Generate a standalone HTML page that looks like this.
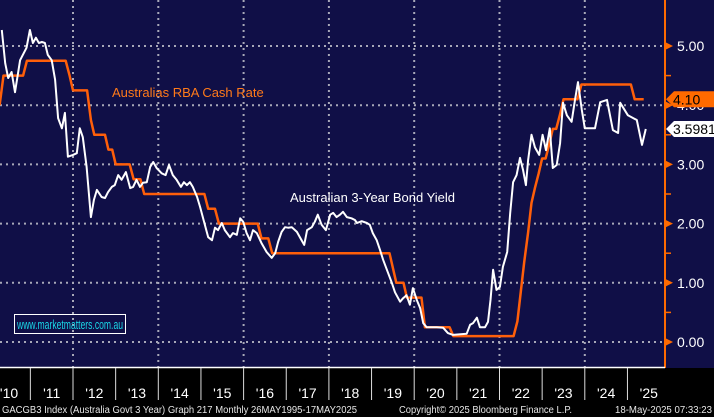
<!DOCTYPE html>
<html><head><meta charset="utf-8"><style>
html,body{margin:0;padding:0;background:#000;}
svg{display:block;font-family:"Liberation Sans",sans-serif;}
</style></head><body>
<svg id="chart" width="714" height="417" viewBox="0 0 714 417" xmlns="http://www.w3.org/2000/svg">
<rect x="0" y="0" width="714" height="368" fill="#100f47"/>
<rect x="0" y="368" width="714" height="49" fill="#000"/>
<g id="grid"></g>
<g id="series"></g>
<text x="112" y="97" fill="#ff7a1a" font-size="13">Australias RBA Cash Rate</text>
<text x="290" y="202" fill="#ffffff" font-size="13">Australian 3-Year Bond Yield</text>
<rect x="14.5" y="314.5" width="111" height="19" fill="none" stroke="#fff" stroke-width="1"/>
<text x="17" y="329" fill="#1ad6e6" font-size="13" textLength="106" lengthAdjust="spacingAndGlyphs">www.marketmatters.com.au</text>
<line x1="665" y1="0" x2="665" y2="368" stroke="#ff6a00" stroke-width="2"/>
<g id="yaxis"></g>
<line x1="0" y1="367.5" x2="665" y2="367.5" stroke="#fff" stroke-width="1.5"/>
<g id="xaxis"></g>
<g id="tags"></g>
<text x="2" y="413" fill="#e6e6e6" font-size="10" textLength="355" lengthAdjust="spacingAndGlyphs">GACGB3 Index (Australia Govt 3 Year) Graph 217  Monthly 26MAY1995-17MAY2025</text>
<text x="399" y="413" fill="#e6e6e6" font-size="10" textLength="173" lengthAdjust="spacingAndGlyphs">Copyright© 2025 Bloomberg Finance L.P.</text>
<text x="615" y="413" fill="#e6e6e6" font-size="10" textLength="97" lengthAdjust="spacingAndGlyphs">18-May-2025 07:33:23</text>
</svg>
<script>
const yTicks=[0,1,2,3,4,5];
const yTickLabels=["0.00","1.00","2.00","3.00","4.00","5.00"];
const yearLabels=["'10","'11","'12","'13","'14","'15","'16","'17","'18","'19","'20","'21","'22","'23","'24","'25"];
const yearStarts=[2010,2011,2012,2013,2014,2015,2016,2017,2018,2019,2020,2021,2022,2023,2024,2025];
const gridYears=[2012,2014,2016,2018,2020,2022,2024];
const cashDates=[2010.28,2010.37,2010.83,2010.92,2011.83,2011.92,2012.0,2012.33,2012.42,2012.5,2012.75,2012.83,2012.92,2013.0,2013.33,2013.42,2013.58,2013.67,2015.08,2015.17,2015.33,2015.42,2016.33,2016.42,2016.58,2016.67,2019.42,2019.5,2019.58,2019.75,2019.83,2020.17,2020.25,2020.83,2020.92,2022.33,2022.42,2022.5,2022.58,2022.67,2022.75,2022.83,2022.92,2023.0,2023.08,2023.17,2023.25,2023.33,2023.42,2023.5,2023.83,2023.92,2025.08,2025.17,2025.38];
const cashValues=[4.0,4.5,4.5,4.75,4.75,4.5,4.25,4.25,3.75,3.5,3.5,3.25,3.25,3.0,3.0,2.75,2.75,2.5,2.5,2.25,2.25,2.0,2.0,1.75,1.75,1.5,1.5,1.25,1.0,1.0,0.75,0.75,0.25,0.25,0.1,0.1,0.35,0.85,1.35,1.85,2.35,2.6,2.85,3.1,3.1,3.35,3.6,3.6,3.85,4.1,4.1,4.35,4.35,4.1,4.1];
const bondDates=[2010.33,2010.41,2010.48,2010.56,2010.64,2010.76,2010.91,2010.99,2011.06,2011.13,2011.20,2011.27,2011.34,2011.41,2011.50,2011.58,2011.65,2011.74,2011.81,2011.88,2012.00,2012.09,2012.16,2012.23,2012.32,2012.42,2012.49,2012.56,2012.67,2012.75,2012.82,2012.91,2012.98,2013.06,2013.14,2013.24,2013.34,2013.41,2013.49,2013.57,2013.64,2013.73,2013.81,2013.88,2013.96,2014.08,2014.17,2014.25,2014.34,2014.43,2014.53,2014.60,2014.67,2014.74,2014.81,2014.91,2014.98,2015.05,2015.17,2015.26,2015.33,2015.40,2015.49,2015.56,2015.68,2015.75,2015.84,2015.92,2015.99,2016.07,2016.15,2016.22,2016.31,2016.42,2016.54,2016.66,2016.74,2016.81,2016.89,2016.97,2017.04,2017.13,2017.25,2017.32,2017.42,2017.49,2017.60,2017.67,2017.74,2017.83,2017.93,2018.03,2018.10,2018.18,2018.26,2018.33,2018.42,2018.53,2018.61,2018.66,2018.77,2018.89,2018.96,2019.03,2019.12,2019.20,2019.27,2019.36,2019.47,2019.55,2019.67,2019.74,2019.82,2019.90,2019.97,2020.06,2020.14,2020.21,2020.29,2020.53,2020.68,2020.79,2020.91,2021.23,2021.31,2021.38,2021.47,2021.54,2021.66,2021.73,2021.79,2021.85,2021.93,2022.01,2022.08,2022.18,2022.25,2022.32,2022.40,2022.48,2022.55,2022.62,2022.67,2022.75,2022.83,2022.93,2023.01,2023.09,2023.18,2023.25,2023.34,2023.42,2023.49,2023.58,2023.69,2023.77,2023.84,2023.93,2024.00,2024.24,2024.36,2024.52,2024.66,2024.78,2024.83,2025.01,2025.22,2025.34,2025.43];
const bondValues=[5.27,4.71,4.46,4.56,4.22,4.76,4.97,5.27,5.05,5.14,5.05,5.07,5.05,4.85,4.76,4.43,3.78,3.61,3.87,3.13,3.16,3.19,3.61,3.46,2.96,2.11,2.40,2.57,2.45,2.43,2.53,2.62,2.65,2.82,2.74,2.87,2.60,2.62,2.74,2.62,2.69,2.70,2.96,3.04,2.94,2.85,2.82,2.99,2.82,2.74,2.62,2.70,2.65,2.70,2.62,2.45,2.28,2.09,1.77,1.72,1.93,1.89,2.01,1.89,1.77,1.84,1.81,2.09,2.03,1.84,1.72,1.89,1.84,1.67,1.52,1.42,1.50,1.69,1.86,1.94,1.93,1.94,1.86,1.77,1.64,1.89,1.94,2.03,2.15,1.98,1.89,2.15,2.18,2.11,2.15,2.20,2.11,2.09,2.06,2.01,2.04,2.01,1.98,1.84,1.72,1.55,1.39,1.22,1.01,0.84,0.68,0.74,0.79,0.63,0.91,0.71,0.57,0.32,0.25,0.25,0.24,0.15,0.12,0.14,0.29,0.32,0.41,0.25,0.25,0.34,0.71,1.22,0.88,0.93,1.27,1.52,2.18,2.70,2.82,3.11,2.91,2.65,3.07,3.50,3.29,3.16,3.50,3.24,3.61,2.94,2.99,3.36,4.04,3.83,3.72,4.09,4.39,3.92,3.61,3.61,4.05,4.09,3.58,3.53,4.04,3.83,3.75,3.33,3.5981];
const lastCash=4.10, lastBond=3.5981;

const NS="http://www.w3.org/2000/svg";
function xs(t){return 73+(t-2012)*42.65;}
function ys(v){return 342-v*59.2;}
function mk(tag,attrs,parent){const e=document.createElementNS(NS,tag);for(const k in attrs)e.setAttribute(k,attrs[k]);parent.appendChild(e);return e;}
const grid=document.getElementById('grid'),series=document.getElementById('series'),yaxis=document.getElementById('yaxis'),xaxis=document.getElementById('xaxis'),tags=document.getElementById('tags');
yTicks.forEach((v,i)=>{
  const g=mk('line',{x1:0,x2:665,y1:ys(v),y2:ys(v),stroke:'#a8a8b8','stroke-width':2,'stroke-dasharray':'2 4'},grid);
  
  
  const tk=mk('path',{d:`M665 ${ys(v)-4} L673 ${ys(v)} L665 ${ys(v)+4} Z`,fill:'#ff6a00'},yaxis);
  
  
  const lb=mk('text',{x:677,y:ys(v)+5,fill:'#fff','font-size':14},yaxis);
  lb.textContent=yTickLabels[i];
  
  
  if(v<5){const m=mk('line',{x1:665,x2:671,y1:ys(v+0.5),y2:ys(v+0.5),stroke:'#ff6a00','stroke-width':1.5},yaxis);
  
  }
});
gridYears.forEach(t=>{
  const g=mk('line',{x1:xs(t),x2:xs(t),y1:0,y2:367,stroke:'#a8a8b8','stroke-width':2,'stroke-dasharray':'2 4'},grid);
  
  
});
yearStarts.forEach((t,i)=>{
  if(i>0){const s=mk('line',{x1:xs(t),x2:xs(t),y1:368,y2:400,stroke:'#ddd','stroke-width':1},xaxis);
  
  }
  const lb=mk('text',{x:xs(t+0.5),y:398,fill:'#fff','font-size':14,'text-anchor':'middle'},xaxis);
  lb.textContent=yearLabels[i];
  
  
});
function pathOf(d,v){return d.map((t,i)=>(i?'L':'M')+xs(t).toFixed(1)+' '+ys(v[i]).toFixed(1)).join(' ');}
const cl=mk('path',{d:pathOf(cashDates,cashValues),fill:'none',stroke:'#ff5f0a','stroke-width':2.5,'stroke-linejoin':'round'},series);


const bl=mk('path',{d:pathOf(bondDates,bondValues),fill:'none',stroke:'#ffffff','stroke-width':2,'stroke-linejoin':'round'},series);


function tag(v,fill,label,name){
  const y=ys(v);
  const p=mk('path',{d:`M666 ${y} L674 ${y-8} L714 ${y-8} L714 ${y+8} L674 ${y+8} Z`,fill:fill},tags);
  
  
  const t=mk('text',{x:673,y:y+5,fill:'#000','font-size':14},tags);
  t.textContent=label;
  
  
}
tag(lastCash,'#ff6a00',lastCash.toFixed(2),'cash-rate');
tag(lastBond,'#ffffff',String(lastBond),'bond-yield');
</script>
</body></html>
